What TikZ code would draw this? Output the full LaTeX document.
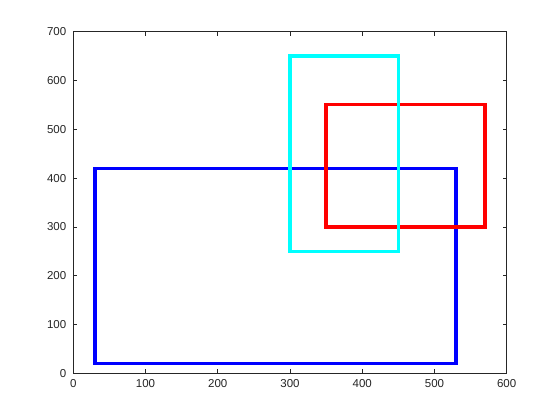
\documentclass[tikz,border=0pt]{standalone}
\usepackage{fontspec}
\setmainfont{Liberation Sans}
\definecolor{axgray}{RGB}{38,38,38}
\definecolor{pblue}{RGB}{0,0,255}
\definecolor{pred}{RGB}{255,0,0}
\definecolor{pcyan}{RGB}{0,255,255}
\begin{document}
\begin{tikzpicture}[x=1pt,y=1pt,
  axis/.style={draw=axgray,line width=0.6pt},
  tick/.style={draw=axgray,line width=0.6pt},
  ticklab/.style={text=axgray,font=\fontsize{11.5}{13}\selectfont,inner sep=0pt},
  rect/.style={line width=3.3pt,line join=miter}]
\useasboundingbox (0,0) rectangle (560,420);
\fill[white] (0,0) rectangle (560,420);
% data -> px: X = 73.3 + 0.7223*x ; Y = 46.7 + 0.4881*y
\begin{scope}[shift={(73.3,46.7)},x=0.7223pt,y=0.4881pt]
  \coordinate (ll) at (0,0);
  \coordinate (ur) at (600,700);
  % rectangles
  \draw[rect,pblue] (30,20) rectangle (530,420);
  \draw[rect,pred] (350,300) rectangle (570,550);
  \draw[rect,pcyan] (300,250) rectangle (450,650);
  % axes box
  \draw[axis] (ll) rectangle (ur);
  % x ticks
  \foreach \v in {0,100,...,600}{
    \draw[tick] (\v,0) -- ++(0,8.2);
    \draw[tick] (\v,700) -- ++(0,-8.2);
    \node[ticklab,anchor=north] (xl\v) at (\v,-12) {\v};
  }
  % y ticks
  \foreach \v in {0,100,...,700}{
    \draw[tick] (0,\v) -- ++(5.5,0);
    \draw[tick] (600,\v) -- ++(-5.5,0);
    \node[ticklab,anchor=east] (yl\v) at (-9.5,\v) {\v};
  }
\end{scope}
\end{tikzpicture}
\end{document}
